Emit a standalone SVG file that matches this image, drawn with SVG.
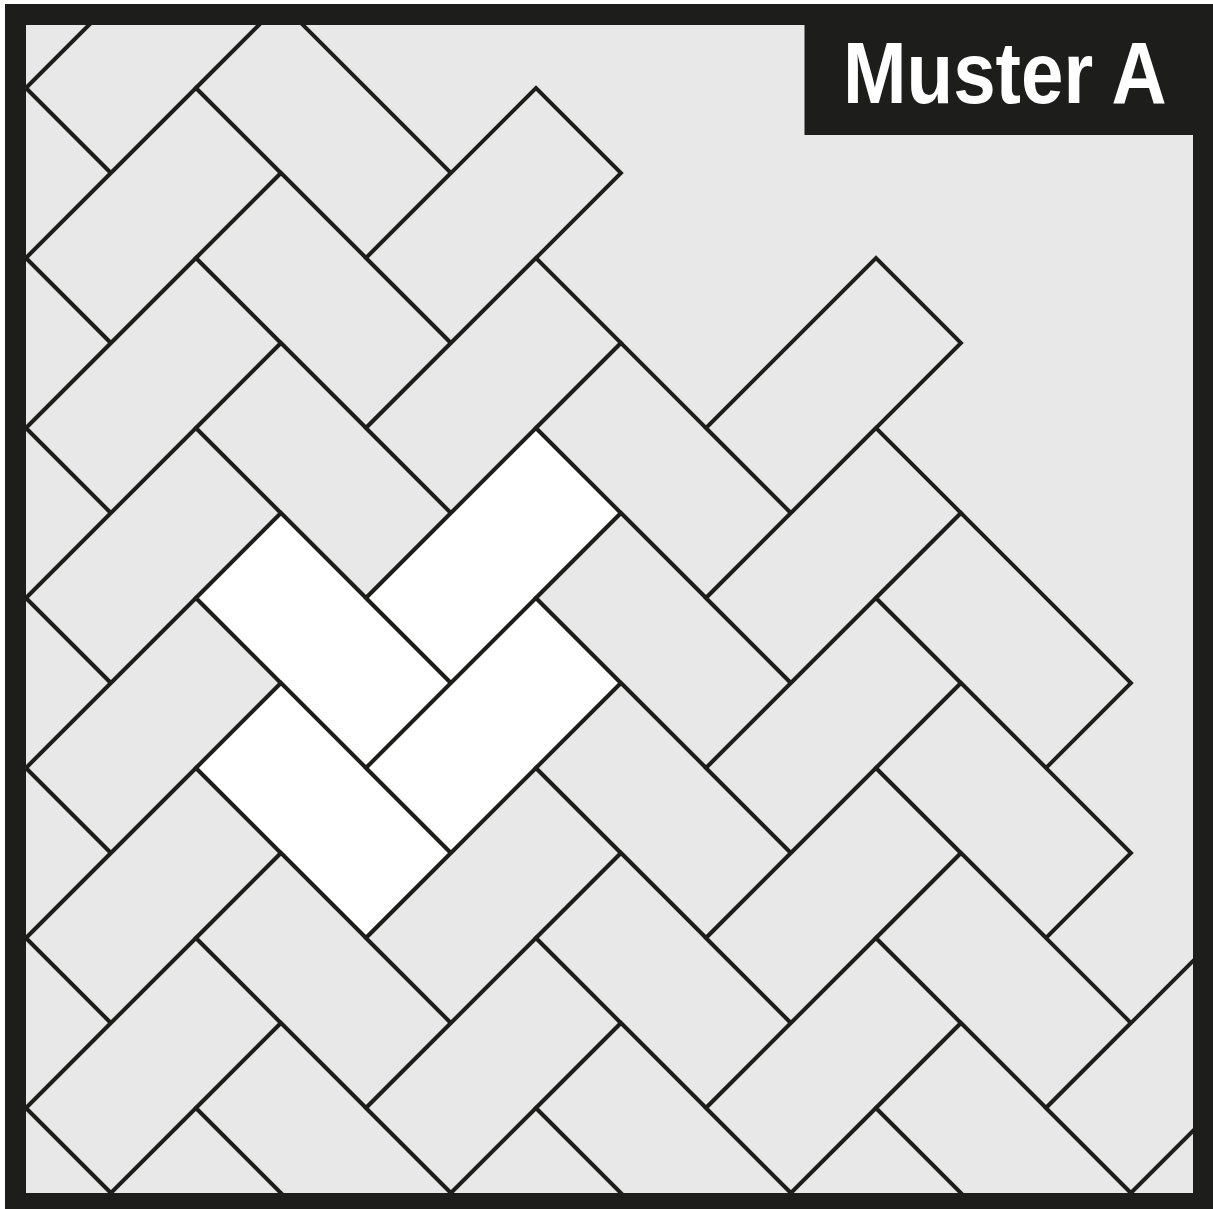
<svg xmlns="http://www.w3.org/2000/svg" xmlns:xlink="http://www.w3.org/1999/xlink" width="1213" height="1209" viewBox="0 0 1213 1209">
  <style>
    .tile { fill: #e8e8e8; stroke: #1d1d1b; stroke-width: 3.9; stroke-linejoin: miter; }
    .white { fill: #ffffff; }
    .label { font-family: "Liberation Sans", Arial, sans-serif; font-weight: bold; font-size: 88px; fill: #ffffff; }
  </style>
  <defs>
    <polygon id="V" points="0,0 85,-85 255,85 170,170"/>
    <polygon id="H" points="0,0 170,-170 255,-85 85,85"/>
    <clipPath id="inner">
      <rect x="26" y="25" width="1167" height="1168"/>
    </clipPath>
  </defs>
  <rect x="0" y="0" width="1213" height="1209" fill="#ffffff"/>
  <rect id="frame" x="5" y="4" width="1208" height="1205" fill="#1d1d1b"/>
  <rect id="field" x="26" y="25" width="1167" height="1168" fill="#e8e8e8"/>
  <g id="tiles" clip-path="url(#inner)">
    <g id="col-v-m2" class="tile">
      <use href="#V" x="-144" y="-82"/>
      <use href="#V" x="-144" y="88"/>
      <use href="#V" x="-144" y="258"/>
      <use href="#V" x="-144" y="428"/>
      <use href="#V" x="-144" y="598"/>
      <use href="#V" x="-144" y="768"/>
      <use href="#V" x="-144" y="938"/>
      <use href="#V" x="-144" y="1108"/>
    </g>
    <g id="col-h-0" class="tile">
      <use href="#H" x="26" y="88"/>
      <use href="#H" x="26" y="258"/>
      <use href="#H" x="26" y="428"/>
      <use href="#H" x="26" y="598"/>
      <use href="#H" x="26" y="768"/>
      <use href="#H" x="26" y="938"/>
      <use href="#H" x="26" y="1108"/>
      <use href="#H" x="26" y="1278"/>
    </g>
    <g id="col-v-2" class="tile">
      <use href="#V" x="196" y="88"/>
      <use href="#V" x="196" y="258"/>
      <use href="#V" x="196" y="428"/>
      <use href="#V" x="196" y="598" class="white"/>
      <use href="#V" x="196" y="768" class="white"/>
      <use href="#V" x="196" y="938"/>
      <use href="#V" x="196" y="1108"/>
    </g>
    <g id="col-h-4" class="tile">
      <use href="#H" x="366" y="258"/>
      <use href="#H" x="366" y="428"/>
      <use href="#H" x="366" y="598" class="white"/>
      <use href="#H" x="366" y="768" class="white"/>
      <use href="#H" x="366" y="938"/>
      <use href="#H" x="366" y="1108"/>
      <use href="#H" x="366" y="1278"/>
    </g>
    <g id="col-v-6" class="tile">
      <use href="#V" x="536" y="428"/>
      <use href="#V" x="536" y="598"/>
      <use href="#V" x="536" y="768"/>
      <use href="#V" x="536" y="938"/>
      <use href="#V" x="536" y="1108"/>
    </g>
    <g id="col-h-8" class="tile">
      <use href="#H" x="706" y="428"/>
      <use href="#H" x="706" y="598"/>
      <use href="#H" x="706" y="768"/>
      <use href="#H" x="706" y="938"/>
      <use href="#H" x="706" y="1108"/>
      <use href="#H" x="706" y="1278"/>
    </g>
    <g id="col-v-10" class="tile">
      <use href="#V" x="876" y="598"/>
      <use href="#V" x="876" y="768"/>
      <use href="#V" x="876" y="938"/>
      <use href="#V" x="876" y="1108"/>
    </g>
    <g id="col-h-12" class="tile">
      <use href="#H" x="1046" y="1108"/>
      <use href="#H" x="1046" y="1278"/>
    </g>
  </g>
  <g id="label">
    <rect x="804.5" y="4" width="408.5" height="131" fill="#1d1d1b"/>
    <text class="label" transform="translate(843,103) scale(0.867,1)" x="0" y="0">Muster A</text>
  </g>
</svg>
